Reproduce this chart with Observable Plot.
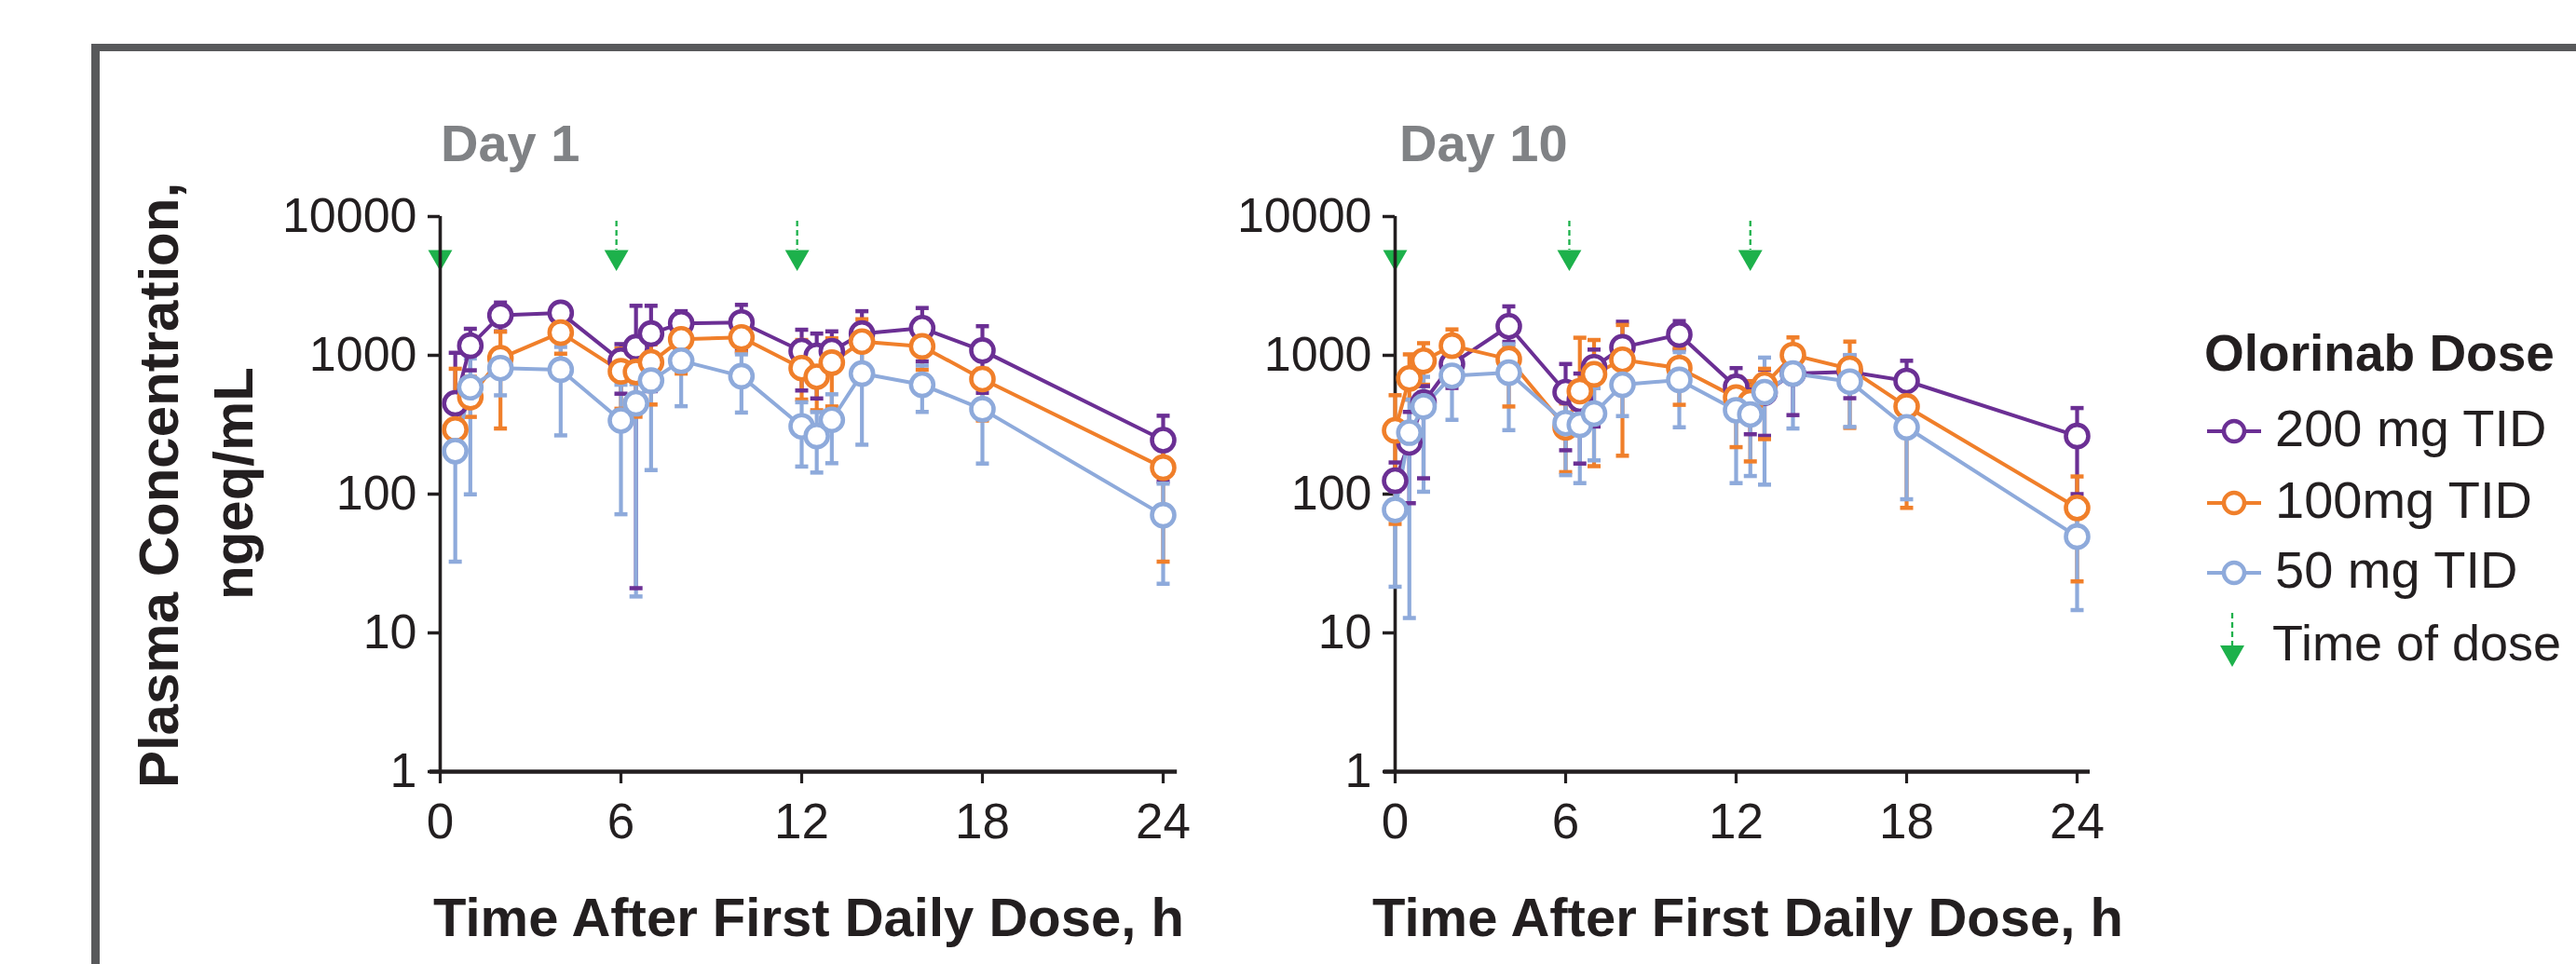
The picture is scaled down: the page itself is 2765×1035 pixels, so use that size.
<!DOCTYPE html>
<html><head><meta charset="utf-8">
<script src="https://cdn.jsdelivr.net/npm/d3@7"></script>
<script src="https://cdn.jsdelivr.net/npm/@observablehq/plot@0.6"></script>
<style>
html,body{margin:0;padding:0;background:#fff;}
body{width:2765px;height:1035px;overflow:hidden;position:relative;font-family:"Liberation Sans",Arial,Helvetica,sans-serif;color:#231f20;}
.abs{position:absolute;white-space:nowrap;}
#frame{position:absolute;left:98px;top:47px;width:3000px;height:1200px;border-top:8px solid #58595b;border-left:9px solid #58595b;}
.panel{position:absolute;top:0;}
.panel svg{overflow:visible;}
</style></head><body>
<div id="frame"></div>
<script>
// ---------------- data ----------------
const doseGroups = ["200 mg TID", "100mg TID", "50 mg TID"];
const doseColors = ["#6b2f94", "#f07f2a", "#8eaadb"];
const doseMarkColor = "#1db14b";

const day1Times  = [0.5, 1, 2, 4, 6, 6.5, 7, 8, 10, 12, 12.5, 13, 14, 16, 18, 24];
const day10Times = [0, 0.5, 1, 2, 4, 6, 6.5, 7, 8, 10, 12, 12.5, 13, 14, 16, 18, 24];

const day1DoseTimes  = [0, 5.85, 11.85];
const day10DoseTimes = [0, 6.13, 12.5];

// Day 1
const d1_200_mean = [451, 1173, 1941, 2023, 914, 1142, 1434, 1700, 1726, 1071, 990, 1071, 1434, 1570, 1083, 245];
const d1_200_lo   = [250, 780, 1489, 1800, 529, 21, 552, 1450, 1071, 558, 489, 850, 1100, 904, 537, 123];
const d1_200_hi   = [1043, 1553, 2400, 2150, 1204, 2275, 2275, 2080, 2311, 1529, 1435, 1488, 2080, 2193, 1622, 367];

const d1_100_mean = [292, 500, 953, 1458, 767, 759, 890, 1304, 1346, 809, 701, 885, 1256, 1160, 675, 155];
const d1_100_lo   = [190, 360, 297, 1027, 412, 361, 442, 739, 1050, 480, 402, 428, 800, 787, 339, 32.6];
const d1_100_hi   = [800, 700, 1480, 1650, 1118, 1000, 1200, 1500, 1550, 1290, 900, 1325, 1820, 1350, 800, 210];

const d1_50_mean  = [204, 589, 809, 788, 339, 451, 658, 914, 708, 308, 262, 343, 739, 614, 409, 70.5];
const d1_50_lo    = [32.6, 99.6, 515, 265, 71.6, 18.3, 149, 430, 387, 158, 143, 167, 227, 391, 166, 22.6];
const d1_50_hi    = [330, 950, 1050, 1150, 614, 620, 950, 1150, 1016, 459, 390, 524, 1100, 844, 600, 119];

// Day 10
const d10_200_mean = [125, 236, 458, 866, 1621, 543, 480, 822, 1142, 1412, 592, 470, 537, 740, 759, 654, 262];
const d10_200_lo   = [105, 86, 130, 582, 1250, 207, 166, 307, 800, 1100, 350, 270, 263, 371, 491, 450, 100];
const d10_200_hi   = [169, 391, 600, 1100, 2253, 866, 739, 1100, 1746, 1765, 809, 650, 787, 950, 1000, 914, 417];

const d10_100_mean = [288, 682, 914, 1173, 938, 303, 552, 731, 929, 809, 496, 458, 614, 1005, 800, 428, 79.6];
const d10_100_lo   = [61, 480, 614, 800, 428, 144, 300, 159, 189, 440, 218, 172, 249, 700, 300, 79.6, 23.5];
const d10_100_hi   = [516, 1016, 1223, 1537, 1150, 450, 1339, 1290, 1655, 1130, 700, 650, 800, 1346, 1256, 600, 134];

const d10_50_mean  = [77, 277, 428, 712, 751, 325, 316, 381, 614, 665, 402, 375, 543, 739, 647, 303, 49.4];
const d10_50_lo    = [21.5, 12.8, 104, 343, 289, 137, 120, 175, 365, 303, 120, 135, 117, 297, 305, 91.8, 14.6];
const d10_50_hi    = [110, 480, 700, 900, 1204, 480, 450, 580, 900, 1055, 550, 500, 963, 1000, 1005, 450, 75];

const yTicks = [1, 10, 100, 1000, 10000];
const xTicks = [0, 6, 12, 18, 24];

// ---------------- helpers ----------------
const FONT = '"Liberation Sans", Arial, Helvetica, sans-serif';
const INK = "#231f20";

function rowsFor(times, groups) {
  const rows = [];
  groups.forEach(([name, mean, lo, hi]) => {
    times.forEach((t, i) => rows.push({t, v: mean[i], lo: lo[i], hi: hi[i], dose: name}));
  });
  return rows;
}

const capSymbol = {draw(ctx, size) { const w = Math.sqrt(size / Math.PI); ctx.moveTo(-w, 0); ctx.lineTo(w, 0); }};
const downTriangle = {draw(ctx, size) {
  const r = Math.sqrt(size / Math.PI);
  ctx.moveTo(-1.35 * r, 0); ctx.lineTo(1.35 * r, 0); ctx.lineTo(0, 2.34 * r); ctx.closePath();
}};

function panel({rows, doseTimes, left, width, x0, x24, axisFrom, axisTo}) {
  const chart = Plot.plot({
    width, height: 1035,
    marginLeft: x0, marginRight: width - x24, marginTop: 232, marginBottom: 1035 - 828,
    style: {fontFamily: FONT, color: INK, background: "none", overflow: "visible"},
    x: {domain: [0, 24], label: null},
    y: {type: "log", domain: [1, 10000], label: null},
    color: {domain: doseGroups, range: doseColors},
    marks: [
      // dose markers
      Plot.ruleX(doseTimes, {x: d => d, y1: 9250, y2: 5730, stroke: doseMarkColor, strokeWidth: 2.3, strokeDasharray: "6,4"}),
      Plot.dot(doseTimes, {x: d => d, y: 5730, symbol: downTriangle, r: 9.6, fill: doseMarkColor, stroke: "none"}),
      // axes
      Plot.axisY({ticks: yTicks, tickFormat: d => String(d), tickSize: 13, tickPadding: 12, fontSize: 52, strokeWidth: 3.5, stroke: INK, fill: INK}),
      Plot.axisX({ticks: xTicks, tickFormat: d => String(d), tickSize: 13, tickPadding: 21, fontSize: 53, strokeWidth: 3.2, stroke: INK, fill: INK}),
      Plot.ruleX([0], {y1: 1, y2: 10000, stroke: INK, strokeWidth: 3.6}),
      Plot.ruleY([1], {x1: axisFrom, x2: axisTo, stroke: INK, strokeWidth: 4.6}),
      // error bars
      Plot.ruleX(rows, {x: "t", y1: "lo", y2: "hi", stroke: "dose", strokeWidth: 4.2}),
      Plot.dot(rows, {x: "t", y: "lo", symbol: capSymbol, r: 7, stroke: "dose", strokeWidth: 4.5, fill: "none"}),
      Plot.dot(rows, {x: "t", y: "hi", symbol: capSymbol, r: 7, stroke: "dose", strokeWidth: 4.5, fill: "none"}),
      // lines and points
      Plot.line(rows, {x: "t", y: "v", z: "dose", stroke: "dose", strokeWidth: 4}),
      Plot.dot(rows, {x: "t", y: "v", r: 12, fill: "white", stroke: "dose", strokeWidth: 4.6})
    ]
  });
  const div = document.createElement("div");
  div.className = "panel";
  div.style.left = left + "px";
  div.appendChild(chart);
  document.body.appendChild(div);
}

function text(str, {x, baseline, size, weight = "normal", anchor = "start", color = INK}) {
  const d = document.createElement("div");
  d.className = "abs";
  d.textContent = str;
  d.style.fontSize = size + "px";
  d.style.lineHeight = size + "px";
  d.style.fontWeight = weight;
  d.style.color = color;
  d.style.top = (baseline - 0.8465 * size) + "px";
  d.style.left = x + "px";
  if (anchor === "middle") d.style.transform = "translateX(-50%)";
  document.body.appendChild(d);
}

function vtext(str, {baselineX, cy, size, weight = "bold"}) {
  const d = document.createElement("div");
  d.className = "abs";
  d.textContent = str;
  d.style.fontSize = size + "px";
  d.style.lineHeight = size + "px";
  d.style.fontWeight = weight;
  d.style.left = (baselineX - 0.3465 * size) + "px";
  d.style.top = cy + "px";
  d.style.transform = "translate(-50%,-50%) rotate(-90deg)";
  document.body.appendChild(d);
}

// ---------------- panels ----------------
panel({
  rows: rowsFor(day1Times, [
    [doseGroups[0], d1_200_mean, d1_200_lo, d1_200_hi],
    [doseGroups[1], d1_100_mean, d1_100_lo, d1_100_hi],
    [doseGroups[2], d1_50_mean, d1_50_lo, d1_50_hi]
  ]),
  doseTimes: day1DoseTimes, left: 0, width: 1300, x0: 472, x24: 1248, axisFrom: -0.34, axisTo: 24.47
});
panel({
  rows: rowsFor(day10Times, [
    [doseGroups[0], d10_200_mean, d10_200_lo, d10_200_hi],
    [doseGroups[1], d10_100_mean, d10_100_lo, d10_100_hi],
    [doseGroups[2], d10_50_mean, d10_50_lo, d10_50_hi]
  ]),
  doseTimes: day10DoseTimes, left: 1300, width: 1000, x0: 197, x24: 929, axisFrom: -0.39, axisTo: 24.46
});

// ---------------- labels ----------------
text("Day 1", {x: 473, baseline: 173, size: 56, weight: "bold", color: "#808285"});
text("Day 10", {x: 1502, baseline: 173, size: 56, weight: "bold", color: "#808285"});
text("Time After First Daily Dose, h", {x: 868, baseline: 1005, size: 58, weight: "bold", anchor: "middle"});
text("Time After First Daily Dose, h", {x: 1876, baseline: 1005, size: 58, weight: "bold", anchor: "middle"});
vtext("Plasma Concentration,", {baselineX: 192, cy: 521, size: 60});
vtext("ngeq/mL", {baselineX: 272, cy: 519, size: 60});

// ---------------- legend ----------------
text("Olorinab Dose", {x: 2366, baseline: 399, size: 55, weight: "bold"});
const rowY = [463, 540, 615];
doseGroups.forEach((g, i) => {
  const s = document.createElementNS("http://www.w3.org/2000/svg", "svg");
  s.setAttribute("width", 70); s.setAttribute("height", 40);
  s.style.position = "absolute"; s.style.left = "2364px"; s.style.top = (rowY[i] - 20) + "px";
  s.innerHTML = `<line x1="5" x2="63" y1="20" y2="20" stroke="${doseColors[i]}" stroke-width="4"/>` +
    `<circle cx="34" cy="20" r="11" fill="white" stroke="${doseColors[i]}" stroke-width="4.4"/>`;
  document.body.appendChild(s);
  text(g, {x: 2442, baseline: rowY[i] + 16, size: 56});
});
(function () {
  const s = document.createElementNS("http://www.w3.org/2000/svg", "svg");
  s.setAttribute("width", 40); s.setAttribute("height", 70);
  s.style.position = "absolute"; s.style.left = "2376px"; s.style.top = "650px";
  s.innerHTML = `<line x1="20" x2="20" y1="8" y2="43" stroke="${doseMarkColor}" stroke-width="2.3" stroke-dasharray="6,4"/>` +
    `<path d="M7,43 L33,43 L20,66 Z" fill="${doseMarkColor}"/>`;
  document.body.appendChild(s);
  text("Time of dose", {x: 2439, baseline: 709, size: 54});
})();
</script>
</body></html>
